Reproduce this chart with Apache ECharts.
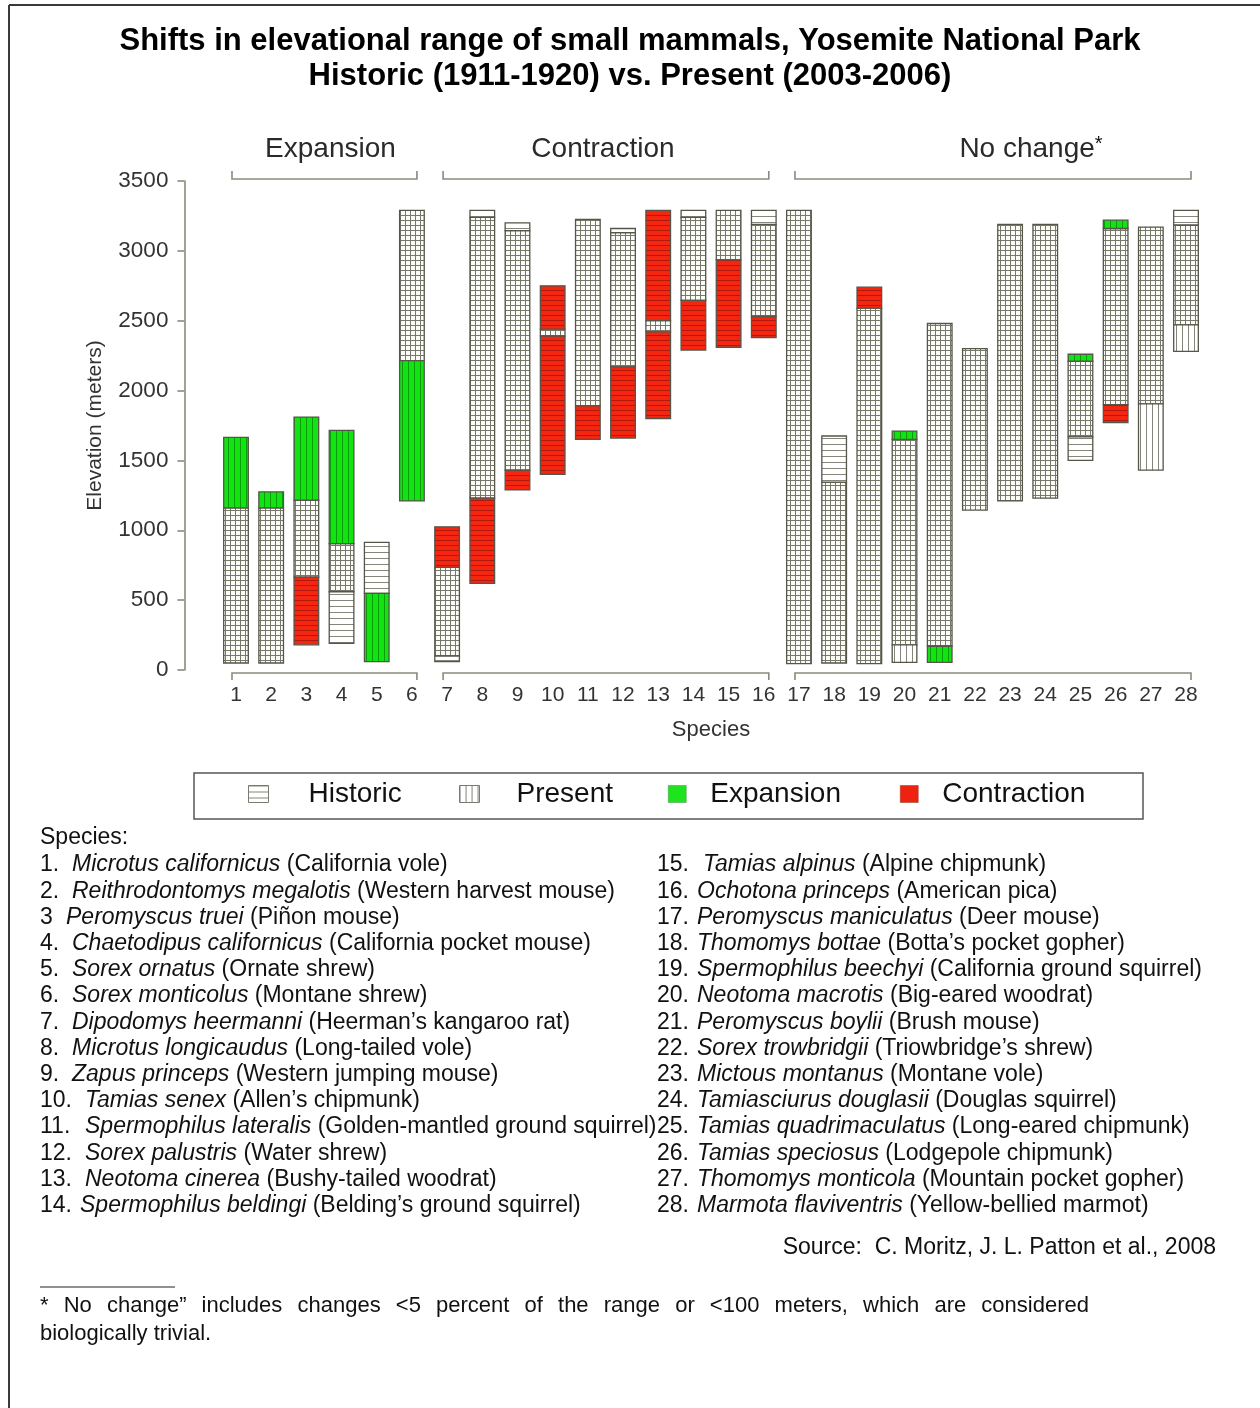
<!DOCTYPE html>
<html>
<head>
<meta charset="utf-8">
<title>Shifts in elevational range of small mammals, Yosemite National Park</title>
<script src="https://cdn.jsdelivr.net/npm/echarts@6/dist/echarts.min.js"></script>
<style>
  html, body { margin: 0; padding: 0; background: #fff; }
  #chart { width: 1260px; height: 1408px; }
</style>
</head>
<body>
<div id="chart"></div>
<script>
// ---- data -------------------------------------------------------------
const categories = ['1','2','3','4','5','6','7','8','9','10','11','12','13','14',
  '15','16','17','18','19','20','21','22','23','24','25','26','27','28'];
const yTicks = [0, 500, 1000, 1500, 2000, 2500, 3000, 3500];

// historic (1911-1920) elevational range, metres
const histLow  = [50, 50, 180, 190, 548, 2215, 60, 620, 1290, 1400, 1650, 1660, 1800, 2290,
  2310, 2380, 45, 50, 45, 180, 170, 1145, 1210, 1230, 1500, 1770, 1905, 2470];
const histHigh = [1160, 1160, 1215, 905, 914, 3290, 1025, 3290, 3200, 2750, 3225, 3160, 3290, 3290,
  3290, 3290, 3290, 1675, 2740, 1650, 2480, 2300, 3190, 3190, 2210, 3160, 3170, 3290];
// present (2003-2006) elevational range, metres
const presLow  = [50, 50, 665, 560, 60, 1210, 100, 1230, 1430, 2390, 1890, 2170, 2420, 2645,
  2935, 2530, 45, 50, 45, 55, 55, 1145, 1210, 1230, 1668, 1900, 1430, 2280];
const presHigh = [1665, 1275, 1810, 1715, 548, 3290, 735, 3240, 3145, 2440, 3225, 3130, 2500, 3240,
  3290, 3190, 3290, 1345, 2590, 1710, 2480, 2300, 3190, 3190, 2260, 3220, 3170, 3185];
// 1 = the shift at the lower / upper limit is a significant expansion or contraction
const shiftLow  = [0, 0, 1, 0, 1, 1, 0, 1, 1, 1, 1, 1, 1, 1, 1, 1, 0, 0, 0, 0, 1, 0, 0, 0, 0, 1, 0, 0];
const shiftHigh = [1, 1, 1, 1, 0, 0, 1, 0, 0, 1, 0, 0, 1, 0, 0, 0, 0, 0, 1, 1, 0, 0, 0, 0, 1, 1, 0, 0];

const groupNames = ['Expansion', 'Contraction', 'No change'];
const groupFirst = [0, 6, 16];
const groupLast  = [5, 15, 27];

const scientificNames = ['Microtus californicus', 'Reithrodontomys megalotis', 'Peromyscus truei',
  'Chaetodipus californicus', 'Sorex ornatus', 'Sorex monticolus', 'Dipodomys heermanni',
  'Microtus longicaudus', 'Zapus princeps', 'Tamias senex', 'Spermophilus lateralis',
  'Sorex palustris', 'Neotoma cinerea', 'Spermophilus beldingi', 'Tamias alpinus',
  'Ochotona princeps', 'Peromyscus maniculatus', 'Thomomys bottae', 'Spermophilus beechyi',
  'Neotoma macrotis', 'Peromyscus boylii', 'Sorex trowbridgii', 'Mictous montanus',
  'Tamiasciurus douglasii', 'Tamias quadrimaculatus', 'Tamias speciosus', 'Thomomys monticola',
  'Marmota flaviventris'];
const commonNames = ['(California vole)', '(Western harvest mouse)', '(Piñon mouse)',
  '(California pocket mouse)', '(Ornate shrew)', '(Montane shrew)', '(Heerman’s kangaroo rat)',
  '(Long-tailed vole)', '(Western jumping mouse)', '(Allen’s chipmunk)',
  '(Golden-mantled ground squirrel)', '(Water shrew)', '(Bushy-tailed woodrat)',
  '(Belding’s ground squirrel)', '(Alpine chipmunk)', '(American pica)', '(Deer mouse)',
  '(Botta’s pocket gopher)', '(California ground squirrel)', '(Big-eared woodrat)',
  '(Brush mouse)', '(Triowbridge’s shrew)', '(Montane vole)', '(Douglas squirrel)',
  '(Long-eared chipmunk)', '(Lodgepole chipmunk)', '(Mountain pocket gopher)',
  '(Yellow-bellied marmot)'];
const numberLabels = ['1.', '2.', '3', '4.', '5.', '6.', '7.', '8.', '9.', '10.', '11.', '12.', '13.',
  '14.', '15.', '16.', '17.', '18.', '19.', '20.', '21.', '22.', '23.', '24.', '25.', '26.', '27.', '28.'];

// ---- segments: overlap, historic-only, present-only -------------------
const segs = { both: [], historic: [], present: [], expansion: [], contraction: [] };
categories.forEach(function (c, i) {
  const hL = histLow[i], hH = histHigh[i], pL = presLow[i], pH = presHigh[i];
  const oL = Math.max(hL, pL), oH = Math.min(hH, pH);
  if (oH > oL) segs.both.push([i, oL, oH]);
  if (hL < pL) segs[shiftLow[i] ? 'contraction' : 'historic'].push([i, hL, Math.min(pL, hH)]);
  if (pL < hL) segs[shiftLow[i] ? 'expansion' : 'present'].push([i, pL, Math.min(hL, pH)]);
  if (hH > pH) segs[shiftHigh[i] ? 'contraction' : 'historic'].push([i, Math.max(pH, hL), hH]);
  if (pH > hH) segs[shiftHigh[i] ? 'expansion' : 'present'].push([i, Math.max(hH, pL), pH]);
});

// ---- hatch fills ------------------------------------------------------
function tile(bg, line, step, horiz, vert) {
  const cv = document.createElement('canvas');
  cv.width = step; cv.height = step;
  const ctx = cv.getContext('2d');
  ctx.fillStyle = bg; ctx.fillRect(0, 0, step, step);
  ctx.fillStyle = line;
  if (horiz) ctx.fillRect(0, 0, step, 1);
  if (vert) ctx.fillRect(0, 0, 1, step);
  return { image: cv, repeat: 'repeat' };
}
const fills = {
  both: tile('#fbfbf8', '#77776a', 5, true, true),
  historic: tile('#ffffff', '#85857a', 6, true, false),
  present: tile('#ffffff', '#85857a', 6, false, true),
  expansion: tile('#12e412', '#0a9c0a', 6, false, true),
  contraction: tile('#f5260f', '#b3180c', 5, true, false)
};

const FONT = 'Liberation Sans, Arial, sans-serif';
const AXIS_GRAY = '#8a8a7c';
const TEXT_GRAY = '#333333';

function segRenderer(fill) {
  return function (params, api) {
    const i = api.value(0);
    const p0 = api.coord([i, api.value(1)]);
    const p1 = api.coord([i, api.value(2)]);
    const w = api.size([1, 0])[0] * 0.7;
    return {
      type: 'rect',
      shape: { x: p0[0] - w / 2, y: p1[1], width: w, height: p0[1] - p1[1] },
      style: { fill: fill, stroke: '#55554a', lineWidth: 1.3 }
    };
  };
}

function segSeries(name, key) {
  return {
    type: 'custom', name: name,
    coordinateSystem: 'cartesian2d',
    renderItem: segRenderer(fills[key]),
    encode: { x: 0, y: [1, 2] },
    itemStyle: { color: fills[key] },
    data: segs[key], z: 3
  };
}

// label offsets of the group titles relative to the bracket centre
const groupLabelShift = { 'Expansion': 6, 'Contraction': -3, 'No change': 38 };

const bracketSeries = {
  type: 'custom', name: 'groups', coordinateSystem: 'cartesian2d', clip: false, silent: true,
  encode: { x: [0, 1] },
  data: groupNames.map(function (g, k) { return [groupFirst[k], groupLast[k], k]; }),
  renderItem: function (params, api) {
    const a = api.coord([api.value(0), 3500]);
    const b = api.coord([api.value(1), 0]);
    const x0 = a[0] - 4, x1 = b[0] + 5;
    const yTop = a[1] - 2, yBot = b[1] + 3;
    const name = groupNames[api.value(2)];
    const cx = (x0 + x1) / 2 + groupLabelShift[name];
    const line = { stroke: AXIS_GRAY, lineWidth: 1.6, fill: null };
    return {
      type: 'group',
      children: [
        { type: 'polyline', shape: { points: [[x0, yTop - 8], [x0, yTop], [x1, yTop], [x1, yTop - 8]] }, style: line },
        { type: 'polyline', shape: { points: [[x0, yBot + 7], [x0, yBot], [x1, yBot], [x1, yBot + 7]] }, style: line },
        {
          type: 'text', x: cx, y: yTop - 30,
          style: {
            text: name === 'No change' ? name + '{s|*}' : name,
            fontSize: 28, fontFamily: FONT, fill: '#2a2a2a',
            align: 'center', verticalAlign: 'middle',
            rich: { s: { fontSize: 20, fontFamily: FONT, fill: '#111', verticalAlign: 'top', padding: [0, 0, 10, 0] } }
          }
        }
      ]
    };
  }
};

// ---- text blocks below the plot -----------------------------------------
const graphics = [];
// outer frame
graphics.push({ type: 'line', shape: { x1: 9, y1: 5, x2: 1260, y2: 5 }, style: { stroke: '#3a3a3a', lineWidth: 2 } });
graphics.push({ type: 'line', shape: { x1: 9, y1: 5, x2: 9, y2: 1408 }, style: { stroke: '#3a3a3a', lineWidth: 2 } });
// legend frame
graphics.push({ type: 'rect', shape: { x: 194, y: 773, width: 949, height: 46 }, style: { fill: null, stroke: '#555', lineWidth: 1.5 } });

function txt(x, y, text, extra) {
  const s = Object.assign({ text: text, fontSize: 23, fontFamily: FONT, fill: '#111', verticalAlign: 'middle' }, extra || {});
  graphics.push({ type: 'text', x: x, y: y, style: s });
}
txt(40, 838, 'Species:');
const rowY0 = 865, rowStep = 26.2;
scientificNames.forEach(function (sci, i) {
  const left = i < 14;
  const row = left ? i : i - 14;
  const y = rowY0 + row * rowStep;
  const numX = left ? 40 : 657;
  let nameX;
  if (left) nameX = (i === 2) ? 66 : (i === 13 ? 80 : (i >= 9 ? 85 : 72));
  else nameX = (i === 14) ? 703 : 697;
  txt(numX, y, numberLabels[i]);
  txt(nameX, y, '{i|' + sci + '} ' + commonNames[i], {
    rich: { i: { fontStyle: 'italic', fontSize: 23, fontFamily: FONT, fill: '#111' } }
  });
});
txt(1216, 1248, 'Source:  C. Moritz, J. L. Patton et al., 2008', { align: 'right' });
graphics.push({ type: 'line', shape: { x1: 40, y1: 1287, x2: 175, y2: 1287 }, style: { stroke: '#222', lineWidth: 1 } });

// justified footnote line: words spread across the column width
(function () {
  const words = '* No change” includes changes <5 percent of the range or <100 meters, which are considered'.split(' ');
  const ctx = document.createElement('canvas').getContext('2d');
  ctx.font = '22px "Liberation Sans", Arial, sans-serif';
  const widths = words.map(function (w) { return ctx.measureText(w).width; });
  const total = widths.reduce(function (a, b) { return a + b; }, 0);
  const gap = (1089 - 40 - total) / (words.length - 1);
  let x = 40;
  words.forEach(function (w, k) {
    txt(x, 1306, w, { fontSize: 22 });
    x += widths[k] + gap;
  });
})();
txt(40, 1334, 'biologically trivial.', { fontSize: 22 });

// ---- legends ----------------------------------------------------------
function legendAt(name, left, pad, w, h, style) {
  return {
    show: true, left: left, top: 780, padding: 0, selectedMode: false,
    itemWidth: w, itemHeight: h, icon: 'rect',
    data: [{ name: name, itemStyle: style }],
    textStyle: { fontSize: 28, fontFamily: FONT, color: '#111', padding: [0, 0, 0, pad] }
  };
}

const chart = echarts.init(document.getElementById('chart'), null, { renderer: 'canvas' });
chart.setOption({
  backgroundColor: '#ffffff',
  animation: false,
  title: {
    text: 'Shifts in elevational range of small mammals, Yosemite National Park\nHistoric (1911-1920) vs. Present (2003-2006)',
    left: 'center', top: 19,
    textStyle: { fontSize: 31, fontWeight: 'bold', fontFamily: FONT, color: '#000', lineHeight: 35 }
  },
  legend: [
    legendAt('Historic', 248, 35, 20, 17, { color: fills.historic, borderColor: '#7a7a6e', borderWidth: 1 }),
    legendAt('Present', 459, 32, 20, 17, { color: fills.present, borderColor: '#7a7a6e', borderWidth: 1 }),
    legendAt('Expansion', 668, 19, 18, 17, { color: '#1de41d', borderColor: '#4a8a4a', borderWidth: 0.5 }),
    legendAt('Contraction', 900, 19, 18, 17, { color: '#ee2211', borderColor: '#8a3a2a', borderWidth: 0.5 })
  ],
  grid: { left: 218.4, right: 56.4, top: 181, bottom: 738, containLabel: false },
  xAxis: {
    type: 'category', data: categories,
    axisLine: { show: false }, axisTick: { show: false },
    axisLabel: { margin: 15, fontSize: 21, fontFamily: FONT, color: TEXT_GRAY, interval: 0 },
    name: 'Species', nameLocation: 'middle', nameGap: 49,
    nameTextStyle: { fontSize: 22, fontFamily: FONT, color: TEXT_GRAY }
  },
  yAxis: {
    type: 'value', min: yTicks[0], max: yTicks[yTicks.length - 1], interval: 500,
    offset: 34,
    axisLine: { show: true, lineStyle: { color: AXIS_GRAY, width: 1.6 } },
    axisTick: { show: true, length: 7, lineStyle: { color: AXIS_GRAY, width: 1.6 } },
    axisLabel: { margin: 16, fontSize: 22.5, fontFamily: FONT, color: TEXT_GRAY,
      formatter: function (v) { return String(v); } },
    splitLine: { show: false },
    name: 'Elevation (meters)', nameLocation: 'middle', nameGap: 79, nameRotate: 90,
    nameTextStyle: { fontSize: 21, fontFamily: FONT, color: TEXT_GRAY }
  },
  graphic: graphics,
  series: [
    segSeries('Both', 'both'),
    segSeries('Historic', 'historic'),
    segSeries('Present', 'present'),
    segSeries('Expansion', 'expansion'),
    segSeries('Contraction', 'contraction'),
    bracketSeries
  ]
});
</script>
</body>
</html>
